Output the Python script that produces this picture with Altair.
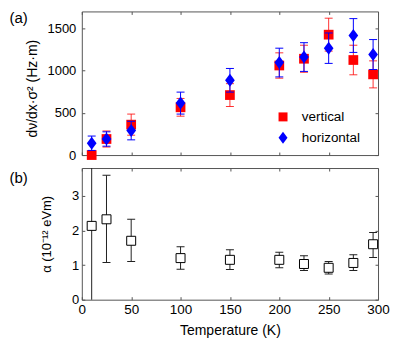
import altair as alt
import pandas as pd

# ---------------- data ----------------
temps = [10, 25, 50, 100, 150, 200, 225, 250, 275, 295]
series_names = ["vertical", "horizontal"]

vertical = [0, 190, 360, 565, 710, 1060, 1140, 1425, 1125, 955]
vertical_err = [30, 95, 125, 105, 135, 150, 160, 195, 175, 160]
horizontal = [140, 190, 290, 615, 885, 1095, 1160, 1265, 1415, 1190]
horizontal_err = [85, 85, 110, 130, 140, 170, 170, 180, 200, 177]

alpha_vals = [2.13, 2.32, 1.70, 1.20, 1.15, 1.15, 1.03, 0.92, 1.06, 1.60]
alpha_lo = [-2.0, 1.07, 1.10, 0.88, 0.87, 0.92, 0.84, 0.74, 0.84, 1.22]
alpha_hi = [6.0, 3.59, 2.32, 1.53, 1.44, 1.37, 1.27, 1.10, 1.30, 1.94]

x_ticks = [0, 50, 100, 150, 200, 250, 300]
ya_ticks = [0, 500, 1000, 1500]
yb_ticks = [0, 1, 2, 3]

rows = []
for name, vals, errs in [("vertical", vertical, vertical_err),
                         ("horizontal", horizontal, horizontal_err)]:
    for t, v, e in zip(temps, vals, errs):
        rows.append({"T": t, "val": v, "lo": v - e, "hi": v + e, "series": name})
df_a = pd.DataFrame(rows)
df_b = pd.DataFrame({"T": temps, "alpha": alpha_vals, "lo": alpha_lo, "hi": alpha_hi})

FONT = "Liberation Sans"
FRAME = "#555555"
SQ_PATH = "M-0.75,-0.75L0.75,-0.75L0.75,0.75L-0.75,0.75Z"
DIA_PATH = "M0,-1L0.75,0L0,1L-0.75,0Z"
COLORS = {"vertical": "#ff0000", "horizontal": "#0000ff"}
W = 297

xs = alt.Scale(domain=[0, 300], nice=False, zero=False)
ya_s = alt.Scale(domain=[0, 1700], nice=False)
yb_s = alt.Scale(domain=[0, 3.8], nice=False)
color_scale = alt.Scale(domain=series_names, range=[COLORS[n] for n in series_names])
shape_scale = alt.Scale(domain=series_names, range=[SQ_PATH, DIA_PATH])


def inner_axis(orient, values, **kw):
    base = dict(orient=orient, values=values, offset=-3, tickSize=3,
                domain=False, grid=False, tickColor=FRAME, labels=False,
                labelFlush=False, format="d")
    base.update(kw)
    return alt.Axis(**base)


# ---------------- panel (a) ----------------
ax_a_x = inner_axis("bottom", x_ticks)
ax_a_y = inner_axis("left", ya_ticks, labels=True, labelPadding=6,
                    titlePadding=8, labelFontSize=13, titleFontSize=14,
                    titleY=77)
YT_A = "dν/dx·σ² (Hz·m)"

legend = alt.Legend(title=None, orient="none", legendX=195, legendY=99,
                    symbolSize=144, labelFontSize=13.5, rowPadding=6,
                    labelOffset=12, padding=0, symbolStrokeWidth=0,
                    labelFont=FONT, labelColor="black")

layers_a = []
for name in series_names:
    b = alt.Chart(df_a).transform_filter(alt.datum.series == name)
    op = 0.8 if name == "vertical" else 1.0
    layers_a.append(b.mark_rule(strokeWidth=1, opacity=op, color=COLORS[name]).encode(
        x=alt.X("T:Q", scale=xs, axis=ax_a_x, title=None),
        y=alt.Y("lo:Q", scale=ya_s, axis=ax_a_y, title=YT_A),
        y2="hi:Q"))
    for f in ["lo", "hi"]:
        layers_a.append(b.mark_tick(orient="horizontal", size=8, thickness=1,
                                    opacity=op, color=COLORS[name]).encode(
            x=alt.X("T:Q", scale=xs, axis=ax_a_x, title=None),
            y=alt.Y(f + ":Q", scale=ya_s, axis=ax_a_y, title=YT_A)))
    layers_a.append(b.mark_point(filled=True, size=169, opacity=1).encode(
        x=alt.X("T:Q", scale=xs, axis=ax_a_x, title=None),
        y=alt.Y("val:Q", scale=ya_s, axis=ax_a_y, title=YT_A),
        color=alt.Color("series:N", scale=color_scale, legend=legend),
        shape=alt.Shape("series:N", scale=shape_scale, legend=legend)))

lab_a = alt.Chart(pd.DataFrame({"lab": ["(a)"]})).mark_text(
    align="left", baseline="top", fontSize=15, font=FONT, color="black").encode(
    x=alt.value(-72.5), y=alt.value(0), text="lab:N")
layers_a.append(lab_a)

frame_a = alt.Chart(df_a).mark_point(opacity=0).encode(
    x=alt.X("T:Q", scale=xs, axis=inner_axis("top", x_ticks), title=None),
    y=alt.Y("val:Q", scale=ya_s, axis=inner_axis("right", ya_ticks), title=None))

panel_a = alt.layer(alt.layer(*layers_a), frame_a).resolve_axis(
    x="independent", y="independent").properties(width=W, height=144)

# ---------------- panel (b) ----------------
ax_b_x = inner_axis("bottom", x_ticks, labels=True, labelPadding=3,
                    labelFontSize=13.5, titleFontSize=14, titlePadding=7)
ax_b_y = inner_axis("left", yb_ticks, labels=True, labelPadding=3,
                    labelFontSize=13, titleFontSize=13, titlePadding=18)
XT = "Temperature (K)"
YT_B = "α (10⁻¹² eVm)"

bb = alt.Chart(df_b)
err_b = bb.mark_rule(strokeWidth=1, color="#222222", clip=True).encode(
    x=alt.X("T:Q", scale=xs, axis=ax_b_x, title=XT),
    y=alt.Y("lo:Q", scale=yb_s, axis=ax_b_y, title=YT_B),
    y2="hi:Q")
caps_b = [bb.mark_tick(orient="horizontal", size=8, thickness=1, opacity=1,
                       color="#222222", clip=True).encode(
    x=alt.X("T:Q", scale=xs, axis=ax_b_x, title=XT),
    y=alt.Y(f + ":Q", scale=yb_s, axis=ax_b_y, title=YT_B)) for f in ["lo", "hi"]]
pts_b = bb.mark_point(shape="square", filled=True, fill="white", stroke="black",
                      strokeWidth=1, size=81, opacity=1).encode(
    x=alt.X("T:Q", scale=xs, axis=ax_b_x, title=XT),
    y=alt.Y("alpha:Q", scale=yb_s, axis=ax_b_y, title=YT_B))
lab_b = alt.Chart(pd.DataFrame({"lab": ["(b)"]})).mark_text(
    align="left", baseline="top", fontSize=15, font=FONT, color="black").encode(
    x=alt.value(-72.5), y=alt.value(3), text="lab:N")

frame_b = bb.mark_point(opacity=0).encode(
    x=alt.X("T:Q", scale=xs, axis=inner_axis("top", x_ticks), title=None),
    y=alt.Y("alpha:Q", scale=yb_s, axis=inner_axis("right", yb_ticks), title=None))

panel_b = alt.layer(alt.layer(err_b, *caps_b, pts_b, lab_b), frame_b).resolve_axis(
    x="independent", y="independent").properties(width=W, height=132)

chart = alt.vconcat(panel_a, panel_b, spacing=13, bounds="flush").properties(
    padding={"left": 1, "top": 2, "right": 0, "bottom": 5}
).configure_axis(
    labelFont=FONT, titleFont=FONT, labelColor="black", titleColor="black",
    titleFontWeight="normal"
).configure_view(stroke=FRAME, strokeWidth=1)

chart.save("out.html", embed_options={"renderer": "svg", "actions": False})
